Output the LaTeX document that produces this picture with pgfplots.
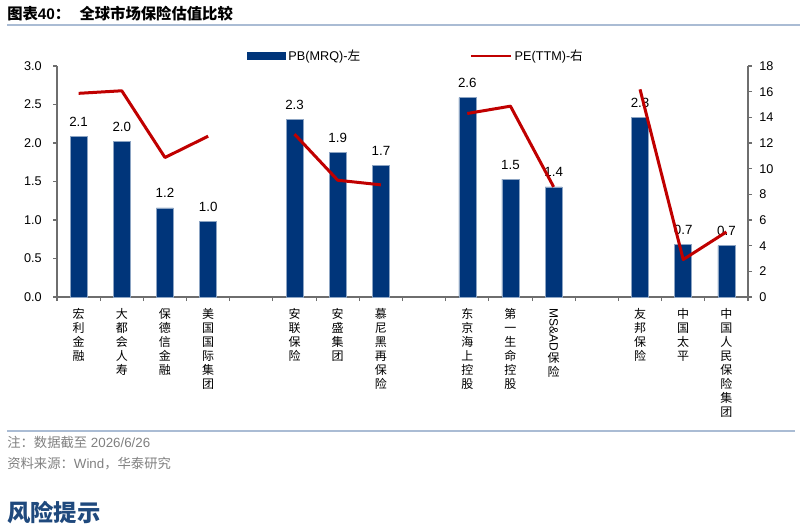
\documentclass[border=0pt]{standalone}
\usepackage{fontspec}
\setmainfont{Liberation Sans}
\newfontfamily\cjk{Noto Sans CJK SC}
\usepackage{graphicx}
\usepackage{pgfplots}
\pgfplotsset{compat=1.18}
\definecolor{pbblue}{RGB}{0,53,122}
\definecolor{pered}{RGB}{192,0,0}
\definecolor{axgray}{RGB}{110,110,110}
\definecolor{rulecol}{RGB}{170,188,212}
\definecolor{notegray}{RGB}{128,128,128}
\definecolor{riskblue}{RGB}{31,73,125}

\begin{document}
\begin{tikzpicture}[x=0.75pt,y=-0.75pt]
\useasboundingbox (0,0) rectangle (800,529);
% title and rules
\node[anchor=west,inner sep=0] at (7,14) {\fontsize{11.5}{13}\selectfont{\cjk\bfseries 图表}{\bfseries 40}{\cjk\bfseries ：\hspace{0.6em}全球市场保险估值比较}};
\draw[rulecol,line width=1pt] (7,25) -- (800,25);
\draw[rulecol,line width=1.5pt] (7,431) -- (795,431);
\node[anchor=west,inner sep=0,text=notegray] at (7,442) {\fontsize{10}{12}\selectfont{\cjk 注：数据截至} 2026/6/26};
\node[anchor=west,inner sep=0,text=notegray] at (7,464) {\fontsize{10}{12}\selectfont{\cjk 资料来源：}Wind{\cjk ，华泰研究}};
\node[anchor=west,inner sep=0,text=riskblue] at (7,513) {\fontsize{17.5}{20}\selectfont\cjk\bfseries 风险提示};

% PB bars, left axis
\begin{axis}[
  at={(42.75pt,-222.75pt)}, anchor=south west,
  width=518.25pt, height=173.25pt, scale only axis,
  xmin=-0.5, xmax=15.5, ymin=0, ymax=3,
  axis y line*=left, axis x line*=bottom,
  axis line style={axgray, line width=0.8pt},
  tick style={axgray, line width=0.8pt},
  tick align=outside, major tick length=3pt, minor tick length=3pt,
  xtick={0,...,15},
  major x tick style={draw=none},
  minor xtick={-0.5,0.5,1.5,2.5,3.5,4.5,5.5,6.5,7.5,8.5,9.5,10.5,11.5,12.5,13.5,14.5,15.5},
  xticklabels={
    {宏\\利\\金\\融}, {大\\都\\会\\人\\寿}, {保\\德\\信\\金\\融}, {美\\国\\国\\际\\集\\团}, {},
    {安\\联\\保\\险}, {安\\盛\\集\\团}, {慕\\尼\\黑\\再\\保\\险}, {},
    {东\\京\\海\\上\\控\\股}, {第\\一\\生\\命\\控\\股}, {\rotatebox[origin=c]{-90}{\fontspec{Liberation Sans}MS\&AD}\\保\\险}, {},
    {友\\邦\\保\\险}, {中\\国\\太\\平}, {中\\国\\人\\民\\保\\险\\集\\团}},
  xticklabel style={font=\cjk\fontsize{9}{10.5}\selectfont, align=center, anchor=north, yshift=-2pt},
  ytick={0,0.5,1,1.5,2,2.5,3},
  yticklabel style={font=\fontsize{9.5}{11}\selectfont, xshift=-5pt},
  yticklabel style={/pgf/number format/fixed, /pgf/number format/fixed zerofill, /pgf/number format/precision=1},
  /pgf/number format/assume math mode=true,
  ybar, bar width=12.75pt,
  nodes near coords,
  nodes near coords style={font=\fontsize{10}{12}\selectfont, yshift=4pt, /pgf/number format/fixed, /pgf/number format/fixed zerofill, /pgf/number format/precision=1},
  clip=false,
]
\addplot[fill=pbblue, draw=pbblue!45!white, line width=0.4pt] coordinates {
  (0,2.086) (1,2.02) (2,1.157) (3,0.98)
  (5,2.307) (6,1.88) (7,1.71)
  (9,2.59) (10,1.53) (11,1.43)
  (13,2.33) (14,0.685) (15,0.668)};
\end{axis}

% PE line, right axis
\begin{axis}[
  at={(42.75pt,-222.75pt)}, anchor=south west,
  width=518.25pt, height=173.25pt, scale only axis,
  xmin=-0.5, xmax=15.5, ymin=0, ymax=18,
  axis y line*=right, axis x line=none,
  axis line style={axgray, line width=0.8pt},
  tick style={axgray, line width=0.8pt},
  tick align=outside, major tick length=3pt,
  ytick={0,2,4,6,8,10,12,14,16,18},
  yticklabel style={font=\fontsize{9.5}{11}\selectfont, xshift=2pt},
  /pgf/number format/assume math mode=true,
  unbounded coords=jump,
  clip=false,
  legend columns=2,
  legend style={draw=none, fill=none, at={(0.275,1.043)}, anchor=west, inner sep=0pt,
    font=\fontsize{9.5}{11}\selectfont,
    /tikz/every even column/.append style={column sep=80pt}},
]
\addlegendimage{legend image code/.code={\fill[pbblue] (0pt,-2.5pt) rectangle (28.5pt,2.5pt);}}
\addlegendentry{PB(MRQ)-{\cjk 左}}
\addplot[pered, line width=2.25pt, line join=round, mark=none,
  legend image code/.code={\draw[pered,line width=1.8pt] (0pt,0pt) -- (30pt,0pt);}] coordinates {
  (0,15.87) (1,16.07) (2,10.87) (3,12.53) (4,nan)
  (5,12.69) (6,9.10) (7,8.74) (8,nan)
  (9,14.3) (10,14.87) (11,8.58) (12,nan)
  (13,16.18) (14,2.92) (15,5.07)};
\addlegendentry{PE(TTM)-{\cjk 右}}
\end{axis}
\end{tikzpicture}
\end{document}
